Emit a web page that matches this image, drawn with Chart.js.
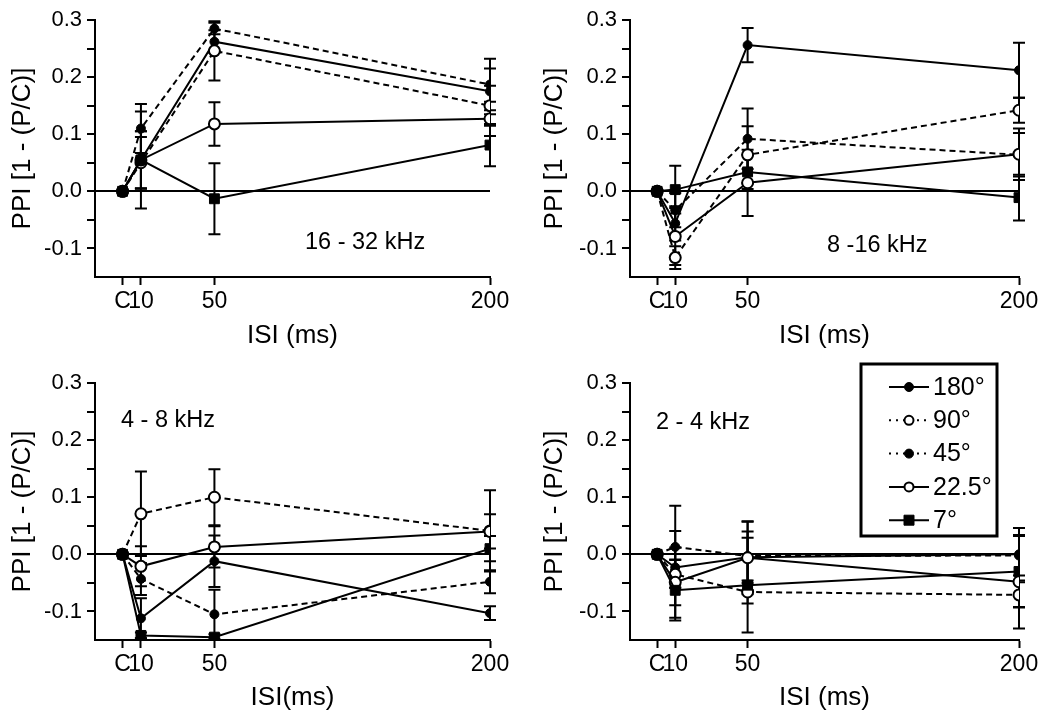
<!DOCTYPE html>
<html><head><meta charset="utf-8">
<script src="https://cdn.jsdelivr.net/npm/chart.js@4"></script>
<style>
html,body{margin:0;padding:0;background:#fff;}
#wrap{position:relative;width:1050px;height:719px;background:#fff;}
canvas{position:absolute;}
</style></head><body><div id="wrap">
<canvas id="cA" width="525" height="360" style="left:0;top:0"></canvas>
<canvas id="cB" width="525" height="360" style="left:525px;top:0"></canvas>
<canvas id="cC" width="525" height="359" style="left:0;top:360px"></canvas>
<canvas id="cD" width="525" height="359" style="left:525px;top:360px"></canvas>
</div>
<script>
// ---------- DATA ----------
const isi = [0, 10, 50, 200];
const xTickLabels = ['C', '10', '50', '200'];
const seriesNames = ['180°', '90°', '45°', '22.5°', '7°'];
const panelTitles = ['16 - 32 kHz', '8 -16 kHz', '4 - 8 kHz', '2 - 4 kHz'];
const xTitles = ['ISI (ms)', 'ISI (ms)', 'ISI(ms)', 'ISI (ms)'];
const yTitle = 'PPI [1 - (P/C)]';

// 16 - 32 kHz
const a180 = [0, 0.055, 0.262, 0.175],  a180Err = [0, 0.050, 0.020, 0.040];
const a90  = [0, 0.050, 0.246, 0.150],  a90Err  = [0, 0.045, 0.052, 0.035];
const a45  = [0, 0.110, 0.285, 0.187],  a45Err  = [0, 0.043, 0.010, 0.045];
const a22  = [0, 0.055, 0.118, 0.127],  a22Err  = [0, 0.050, 0.038, 0.030];
const a7   = [0, 0.055, -0.013, 0.081], a7Err   = [0, 0.085, 0.062, 0.037];
// 8 - 16 kHz
const b180 = [0, -0.056, 0.256, 0.212], b180Err = [0, 0.030, 0.030, 0.048];
const b90  = [0, -0.116, 0.064, 0.142], b90Err  = [0, 0.020, 0.050, 0.022];
const b45  = [0, -0.033, 0.092, 0.064], b45Err  = [0, 0.030, 0.053, 0.038];
const b22  = [0, -0.079, 0.015, 0.065], b22Err  = [0, 0.050, 0.058, 0.045];
const b7   = [0, 0.003, 0.034, -0.011], b7Err   = [0, 0.042, 0.030, 0.040];
// 4 - 8 kHz
const c180 = [0, -0.112, -0.012, -0.103], c180Err = [0, 0.035, 0.045, 0.012];
const c90  = [0, 0.071, 0.100, 0.041],    c90Err  = [0, 0.074, 0.049, 0.071];
const c45  = [0, -0.043, -0.105, -0.048], c45Err  = [0, 0.028, 0.043, 0.020];
const c22  = [0, -0.021, 0.013, 0.040],   c22Err  = [0, 0.035, 0.036, 0.030];
const c7   = [0, -0.142, -0.145, 0.010],  c7Err   = [0, 0.005, 0.005, 0.022];
// 2 - 4 kHz
const d180 = [0, -0.023, -0.005, 0.000],  d180Err = [0, 0.035, 0.045, 0.046];
const d90  = [0, -0.035, -0.066, -0.071], d90Err  = [0, 0.076, 0.020, 0.022];
const d45  = [0, 0.013, -0.003, -0.002],  d45Err  = [0, 0.072, 0.060, 0.035];
const d22  = [0, -0.049, -0.006, -0.048], d22Err  = [0, 0.040, 0.064, 0.082];
const d7   = [0, -0.063, -0.054, -0.030], d7Err   = [0, 0.053, 0.083, 0.062];

// ---------- STYLES ----------
const FONT = "'Liberation Sans', Arial, Helvetica, sans-serif";
Chart.defaults.font.family = FONT;
Chart.defaults.color = '#000';
const seriesStyles = [
  {fill: '#000', dash: [],     shape: 'circle', r: 4.5, bw: 1, legendDash: []},
  {fill: '#fff', dash: [6, 4], shape: 'circle', r: 5.5, bw: 2, legendDash: [2, 5]},
  {fill: '#000', dash: [6, 4], shape: 'circle', r: 4.5, bw: 1, legendDash: [2, 5]},
  {fill: '#fff', dash: [],     shape: 'circle', r: 5.5, bw: 2, legendDash: []},
  {fill: '#000', dash: [],     shape: 'rect',   r: 7,   bw: 1, legendDash: []}
];

const errorBarPlugin = {
  id: 'errorBars',
  beforeDatasetsDraw(chart) {
    const ctx = chart.ctx, ys = chart.scales.y;
    ctx.save();
    ctx.strokeStyle = '#000'; ctx.lineWidth = 2; ctx.setLineDash([]);
    chart.data.datasets.forEach((ds, di) => {
      const meta = chart.getDatasetMeta(di);
      meta.data.forEach((pt, i) => {
        const e = ds.errs[i];
        if (!e) return;
        const v = ds.data[i].y;
        const y1 = ys.getPixelForValue(v + e), y2 = ys.getPixelForValue(v - e);
        ctx.beginPath();
        ctx.moveTo(pt.x, y1); ctx.lineTo(pt.x, y2);
        ctx.moveTo(pt.x - 6, y1); ctx.lineTo(pt.x + 6, y1);
        ctx.moveTo(pt.x - 6, y2); ctx.lineTo(pt.x + 6, y2);
        ctx.stroke();
      });
    });
    ctx.restore();
  }
};

const panelTextPlugin = {
  id: 'panelText',
  afterDraw(chart, args, opts) {
    if (!opts.text) return;
    const ctx = chart.ctx;
    ctx.save();
    ctx.font = '23.5px ' + FONT;
    ctx.fillStyle = '#000';
    ctx.textBaseline = 'middle';
    ctx.textAlign = 'left';
    ctx.fillText(opts.text, opts.x, opts.y);
    ctx.restore();
  }
};

const legendBoxPlugin = {
  id: 'legendBox',
  afterDraw(chart, args, opts) {
    if (!opts.show) return;
    const ctx = chart.ctx;
    ctx.save();
    ctx.fillStyle = '#fff';
    ctx.fillRect(opts.x0, opts.y0, opts.x1 - opts.x0, opts.y1 - opts.y0);
    ctx.strokeStyle = '#000'; ctx.lineWidth = 3;
    ctx.strokeRect(opts.x0, opts.y0, opts.x1 - opts.x0, opts.y1 - opts.y0);
    seriesNames.forEach((name, k) => {
      const st = seriesStyles[k];
      const y = opts.rowY0 + k * opts.rowGap;
      ctx.strokeStyle = '#000'; ctx.lineWidth = 2;
      ctx.setLineDash(st.legendDash);
      ctx.beginPath(); ctx.moveTo(opts.lineX0, y); ctx.lineTo(opts.lineX1, y); ctx.stroke();
      ctx.setLineDash([]);
      const mx = (opts.lineX0 + opts.lineX1) / 2;
      ctx.fillStyle = st.fill; ctx.lineWidth = st.bw === 2 ? 2 : 1;
      ctx.beginPath();
      if (st.shape === 'rect') { ctx.rect(mx - 5, y - 5, 10, 10); }
      else { ctx.arc(mx, y, 4.5, 0, Math.PI * 2); }
      ctx.fill(); ctx.stroke();
      ctx.fillStyle = '#000';
      ctx.font = '25px ' + FONT;
      ctx.textBaseline = 'middle'; ctx.textAlign = 'left';
      ctx.fillText(name, opts.textX, y + 1);
    });
    ctx.restore();
  }
};

function makeChart(id, values, errs, L, idx, legendOpts) {
  const datasets = seriesNames.map((name, k) => {
    const st = seriesStyles[k];
    return {
      label: name,
      order: seriesNames.length - k,
      data: isi.map((x, i) => ({x: x, y: values[k][i]})),
      errs: errs[k],
      borderColor: '#000', borderWidth: 2, borderDash: st.dash,
      pointStyle: st.shape, pointRadius: st.r, pointHoverRadius: st.r,
      pointBackgroundColor: st.fill, pointBorderColor: '#000', pointBorderWidth: st.bw,
      fill: false, tension: 0
    };
  });
  return new Chart(document.getElementById(id), {
    type: 'line',
    data: {datasets},
    plugins: [errorBarPlugin, panelTextPlugin, legendBoxPlugin],
    options: {
      responsive: false, animation: false,
      layout: {padding: {left: 0, top: L.top, right: L.right, bottom: 0}},
      plugins: {
        legend: {display: false}, tooltip: {enabled: false},
        panelText: {text: panelTitles[idx], x: L.tx, y: L.ty},
        legendBox: legendOpts || {show: false}
      },
      scales: {
        x: {
          type: 'linear', min: -15, max: 200,
          afterBuildTicks: s => { s.ticks = isi.map(v => ({value: v})); },
          afterFit: s => { s.height = L.xh; },
          ticks: {autoSkip: false, maxRotation: 0, padding: 3, color: '#000',
                  font: {size: 23},
                  callback: v => xTickLabels[isi.indexOf(v)]},
          grid: {drawOnChartArea: false, drawTicks: true, tickLength: 8,
                 tickColor: '#000', tickWidth: 2, color: '#000'},
          border: {display: true, color: '#000', width: 2},
          title: {display: true, text: xTitles[idx], color: '#000',
                  font: {size: 26}, padding: {top: 0, bottom: L.xtp}}
        },
        y: {
          min: -0.15, max: 0.3,
          afterFit: s => { s.width = L.yw; },
          ticks: {stepSize: 0.05, autoSkip: false, padding: 5, color: '#000', font: {size: 22},
                  callback: v => { const k = Math.round(v * 100); return (k % 10 === 0) ? (k / 100).toFixed(1) : ''; }},
          grid: {drawOnChartArea: true, drawTicks: true, tickLength: 8, tickWidth: 2,
                 lineWidth: 2,
                 color: c => (c.tick && Math.abs(c.tick.value) < 1e-9) ? '#000' : 'rgba(0,0,0,0)',
                 tickColor: c => (c.tick && c.tick.value < -0.149) ? 'rgba(0,0,0,0)' : '#000'},
          border: {display: true, color: '#000', width: 2},
          title: {display: true, text: yTitle, color: '#000',
                  font: {size: 26}, padding: {top: L.ytp, bottom: 0}}
        }
      }
    }
  });
}

makeChart('cA', [a180, a90, a45, a22, a7], [a180Err, a90Err, a45Err, a22Err, a7Err],
  {top: 20, right: 35, xh: 83, yw: 95, xtp: 9, ytp: 7, tx: 305, ty: 243}, 0);
makeChart('cB', [b180, b90, b45, b22, b7], [b180Err, b90Err, b45Err, b22Err, b7Err],
  {top: 20, right: 31, xh: 83, yw: 105, xtp: 9, ytp: 14, tx: 302, ty: 246}, 1);
makeChart('cC', [c180, c90, c45, c22, c7], [c180Err, c90Err, c45Err, c22Err, c7Err],
  {top: 23, right: 35, xh: 79, yw: 95, xtp: 6, ytp: 7, tx: 121, ty: 61}, 2);
makeChart('cD', [d180, d90, d45, d22, d7], [d180Err, d90Err, d45Err, d22Err, d7Err],
  {top: 23, right: 31, xh: 79, yw: 105, xtp: 6, ytp: 14, tx: 131, ty: 63}, 3,
  {show: true, x0: 336, y0: 4, x1: 472, y1: 176, rowY0: 27, rowGap: 33.3,
   lineX0: 364, lineX1: 404, textX: 408});
</script>
</body></html>
